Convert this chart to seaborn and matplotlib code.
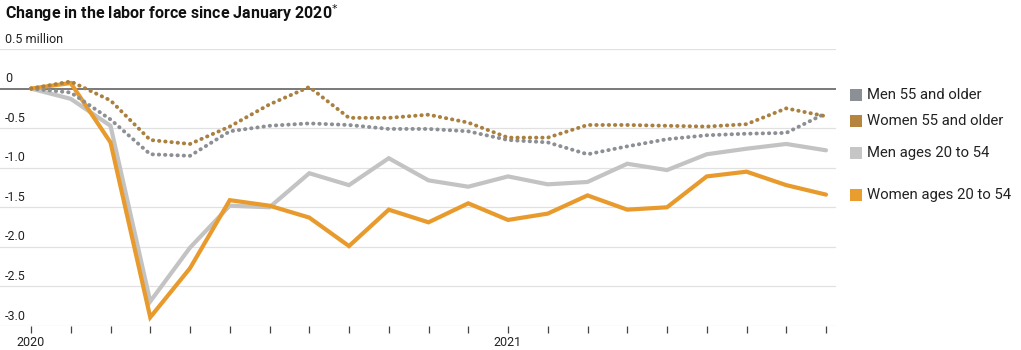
import numpy as np
import pandas as pd
import matplotlib
matplotlib.use("Agg")
import matplotlib.pyplot as plt
from matplotlib.patches import Rectangle
from matplotlib.transforms import blended_transform_factory, offset_copy
import seaborn as sns

# Monthly change in labor force since Jan 2020, millions (Jan 2020 - Sep 2021)
months = pd.date_range("2020-01-01", periods=21, freq="MS")
men_55_older = [0, -0.05, -0.39, -0.83, -0.85, -0.54, -0.47, -0.44, -0.46, -0.51, -0.51,
                -0.54, -0.65, -0.68, -0.83, -0.73, -0.64, -0.59, -0.57, -0.56, -0.31]
women_55_older = [0, 0.09, -0.15, -0.65, -0.70, -0.48, -0.20, 0.02, -0.37, -0.37, -0.33,
                  -0.43, -0.62, -0.62, -0.46, -0.46, -0.47, -0.48, -0.45, -0.25, -0.35]
men_20_54 = [0, -0.13, -0.47, -2.69, -2.01, -1.48, -1.50, -1.07, -1.22, -0.88, -1.16,
             -1.24, -1.11, -1.21, -1.18, -0.95, -1.03, -0.83, -0.76, -0.70, -0.78]
women_20_54 = [0, 0.07, -0.68, -2.89, -2.27, -1.41, -1.48, -1.63, -1.99, -1.53, -1.69,
               -1.45, -1.66, -1.58, -1.35, -1.53, -1.50, -1.11, -1.05, -1.22, -1.34]

series_names = ["Men 55 and older", "Women 55 and older", "Men ages 20 to 54", "Women ages 20 to 54"]
series_values = [men_55_older, women_55_older, men_20_54, women_20_54]
colors = {"Men 55 and older": "#8c8f94",
          "Women 55 and older": "#a98040",
          "Men ages 20 to 54": "#c3c3c3",
          "Women ages 20 to 54": "#e89b2c"}
legend_colors = {"Men 55 and older": "#8c8f94",
                 "Women 55 and older": "#b5843e",
                 "Men ages 20 to 54": "#c6c6c6",
                 "Women ages 20 to 54": "#e99d2e"}

y_ticks = [0.5, 0, -0.5, -1.0, -1.5, -2.0, -2.5, -3.0]
y_tick_labels = ["0.5 million", "0", "-0.5", "-1.0", "-1.5", "-2.0", "-2.5", "-3.0"]
x_tick_labels = {0: "2020", 12: "2021"}

rows = []
for name, vals in zip(series_names, series_values):
    for i, v in enumerate(vals):
        rows.append({"month": i, "series": name, "value": v})
df = pd.DataFrame(rows)

sns.set_theme(style="white")
plt.rcParams["font.family"] = ["Roboto", "DejaVu Sans"]

fig = plt.figure(figsize=(10.21, 3.5), dpi=100)
W, H = 1021, 350
ax = fig.add_axes([0 / W, 1 - 326 / H, 836 / W, (326 - 49) / H])

# grid lines
for yv in y_ticks:
    if yv == 0:
        ax.axhline(0, color="#555555", lw=1.1, zorder=3)
    else:
        ax.axhline(yv, color="#e1e1e1", lw=0.9, zorder=1)

# order: light solid lines beneath, dotted on top
styles = {"Men ages 20 to 54": dict(lw=3.0, ls="-", z=4),
          "Women ages 20 to 54": dict(lw=3.0, ls="-", z=5),
          "Men 55 and older": dict(lw=2.8, ls=(0, (0.1, 1.5)), z=6),
          "Women 55 and older": dict(lw=2.8, ls=(0, (0.1, 1.5)), z=7)}
for name in ["Men ages 20 to 54", "Women ages 20 to 54", "Men 55 and older", "Women 55 and older"]:
    st = styles[name]
    sub = df[df["series"] == name]
    sns.lineplot(data=sub, x="month", y="value", ax=ax, color=colors[name],
                 lw=st["lw"], zorder=st["z"], legend=False)
    line = ax.lines[-1]
    line.set_linestyle(st["ls"])
    if st["ls"] != "-":
        line.set_dash_capstyle("round")
    else:
        line.set_solid_joinstyle("miter")

ax.set_xlim(-31 / 39.75, (836 - 31) / 39.75)
ax.set_ylim(-3.0, 0.5)
for s in ax.spines.values():
    s.set_visible(False)
ax.set_xlabel("")
ax.set_ylabel("")
ax.set_yticks([])
ax.set_xticks(range(21))
ax.set_xticklabels([x_tick_labels.get(i, "") for i in range(21)])
ax.tick_params(axis="x", bottom=True, length=5, width=0.9, color="#444444",
               direction="out", pad=2, labelsize=9, labelcolor="#222222")

# y tick labels sit just above their grid lines
trans = blended_transform_factory(fig.transFigure, ax.transData)
trans = offset_copy(trans, fig=fig, x=0, y=2.5, units="points")
for yv, lab in zip(y_ticks, y_tick_labels):
    ax.text(5 / W, yv, lab, transform=trans, ha="left", va="bottom",
            fontsize=9, color="#222222", clip_on=False)

fig.text(5 / W, 1 - 13 / H, "Change in the labor force since January 2020$^{*}$",
         ha="left", va="center", fontsize=11.5, fontweight="bold", color="#111111")

# legend
leg_y = [95, 121, 153, 195]
for name, yp in zip(series_names, leg_y):
    fig.add_artist(Rectangle((850 / W, 1 - (yp + 6) / H), 12 / W, 12 / H,
                             transform=fig.transFigure, color=legend_colors[name], lw=0))
    fig.text(867 / W, 1 - yp / H, name, ha="left", va="center",
             fontsize=10.7, color="#222222")

fig.savefig("out.png", dpi=100, facecolor="white")
